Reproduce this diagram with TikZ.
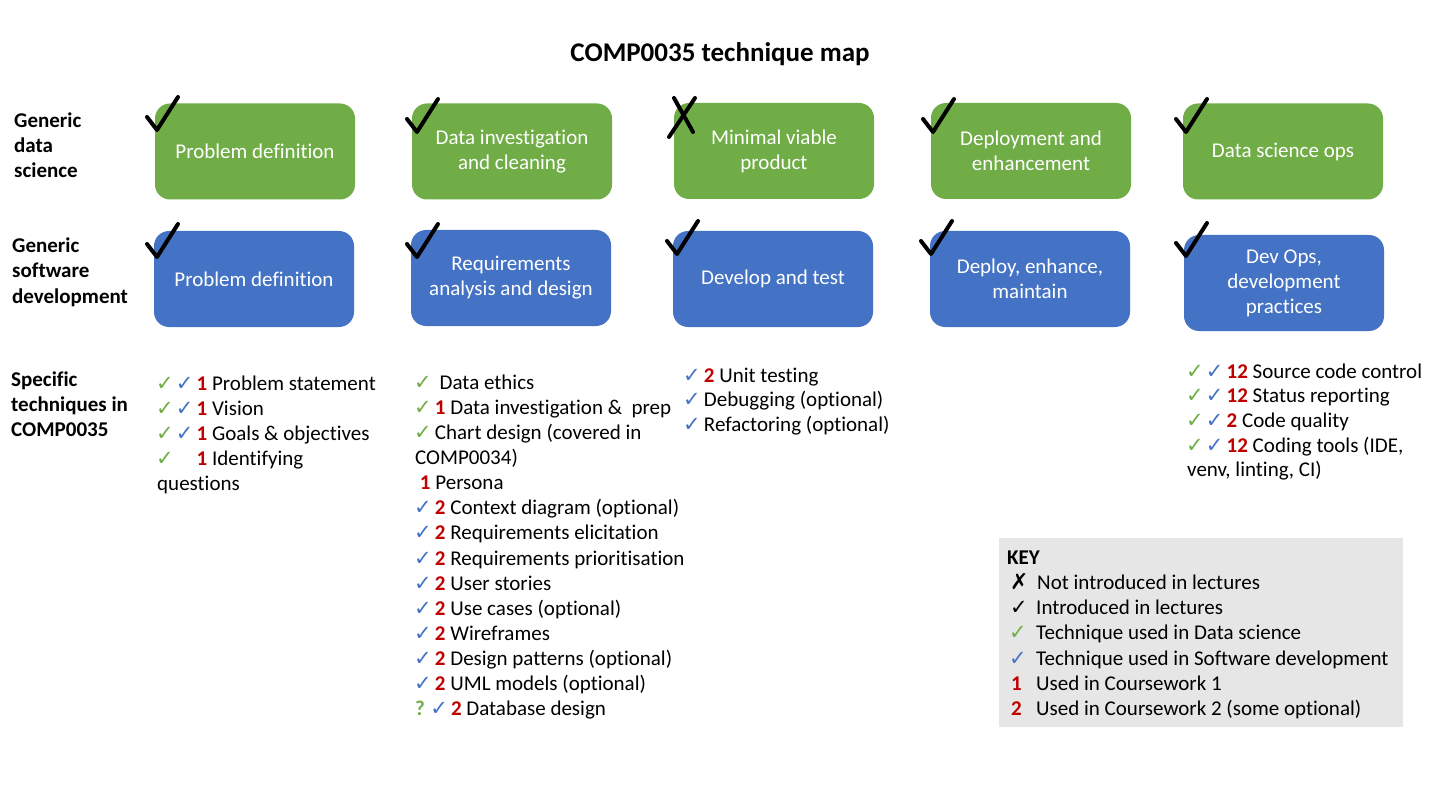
\documentclass[tikz,border=0pt]{standalone}
\usepackage{fontspec}
\setmainfont{Carlito}[Ligatures=NoCommon]
\newfontfamily\symf{DejaVu Sans}
\definecolor{dsgreen}{HTML}{70AD47}
\definecolor{sdblue}{HTML}{4472C4}
\definecolor{cwred}{HTML}{C00000}
\definecolor{keygray}{HTML}{E7E6E6}
\newcommand{\ckbox}[1]{\makebox[15pt][l]{\hspace{-1pt}\symf\fontsize{21}{24}\selectfont #1}}
\newcommand{\gck}{{\color{dsgreen}\ckbox{✓}}}
\newcommand{\bck}{{\color{sdblue}\ckbox{✓}}}
\newcommand{\kck}{{\symf\fontsize{21}{24}\selectfont ✓}}
\newcommand{\kx}{{\symf\fontsize{22}{24}\selectfont ✗}}
\newcommand{\rn}[1]{{\color{cwred}\bfseries #1}}
\newcommand{\tickat}[2]{\draw[tickline] (#1-10,#2-13) -- (#1,#2) -- (#1+21,#2-33);}
\tikzset{
  base/.style={font=\fontsize{21}{25}\selectfont},
  txt/.style={base, anchor=base west, inner sep=0pt},
  lbl/.style={txt, font=\fontsize{21}{25}\selectfont\bfseries},
  stage/.style={base, text=white, align=center, minimum width=200pt, minimum height=96pt,
    rounded corners=15pt, inner sep=0pt},
  dsbox/.style={stage, fill=dsgreen},
  sdbox/.style={stage, fill=sdblue},
  tickline/.style={line width=4pt, line cap=round, line join=round, black}
}
\begin{document}
\begin{tikzpicture}[x=1pt,y=-1pt]
\useasboundingbox (0,0) rectangle (1440,810);
\fill[white] (0,0) rectangle (1440,810);

% title
\node[txt, anchor=base, font=\fontsize{27}{30}\selectfont\bfseries] (title) at (720,62) {COMP0035 technique map};

% row labels
\node[lbl] (r1a) at (14,127.5) {Generic};
\node[lbl] (r1b) at (14,152.5) {data};
\node[lbl] (r1c) at (14,177.5) {science};
\node[lbl] (r2a) at (12,253) {Generic};
\node[lbl] (r2b) at (12,278) {software};
\node[lbl] (r2c) at (12,303) {development};
\node[lbl] (r3a) at (11,386.5) {Specific};
\node[lbl] (r3b) at (11,411.5) {techniques in};
\node[lbl] (r3c) at (11,436.5) {COMP0035};

% data science boxes
\node[dsbox] (g1) at (255,151.5) {Problem definition};
\node[dsbox] (g2) at (512,151.5) {Data investigation\\and cleaning};
\node[dsbox] (g3) at (774,151) {Minimal viable\\product};
\node[dsbox] (g4) at (1031,151) {Deployment and\\enhancement};
\node[dsbox] (g5) at (1283,151.5) {Data science ops};

% software development boxes
\node[sdbox] (b1) at (254,279) {Problem definition};
\node[sdbox] (b2) at (511,278) {Requirements\\analysis and design};
\node[sdbox] (b3) at (773,279) {Develop and test};
\node[sdbox] (b4) at (1030,279) {Deploy, enhance,\\maintain};
\node[sdbox] (b5) at (1284,283) {Dev Ops,\\development\\practices};

% hand ticks
\tickat{157}{130}
\tickat{417}{132}
\tickat{933}{132}
\tickat{1186}{132}
\tickat{157}{257}
\tickat{417}{257}
\tickat{677}{254}
\tickat{931}{254}
\tickat{1186}{256}
% hand cross
\draw[tickline] (674,98) -- (693,132);
\draw[tickline] (695,98) -- (669,137);

% column 1
\node[txt] (c1a) at (157,390.5) {\gck\ \bck\ \rn{1} Problem statement};
\node[txt] (c1b) at (157,415.5) {\gck\ \bck\ \rn{1} Vision};
\node[txt] (c1c) at (157,440.5) {\gck\ \bck\ \rn{1} Goals \& objectives};
\node[txt] (c1d) at (157,465.5) {\gck\ \hphantom{\bck}\ \rn{1} Identifying};
\node[txt] (c1e) at (157,490.5) {questions};

% column 2
\node[txt] (c2a) at (415,389) {\gck\ \ Data ethics};
\node[txt] (c2b) at (415,414.15) {\gck\ \rn{1} Data investigation \& \ prep};
\node[txt] (c2c) at (415,439.3) {\gck\ Chart design (covered in};
\node[txt] (c2d) at (415,464.45) {COMP0034)};
\node[txt] (c2e) at (415,489.6) {\ \rn{1} Persona};
\node[txt] (c2f) at (415,514.75) {\bck\ \rn{2} Context diagram (optional)};
\node[txt] (c2g) at (415,539.9) {\bck\ \rn{2} Requirements elicitation};
\node[txt] (c2h) at (415,565.05) {\bck\ \rn{2} Requirements prioritisation};
\node[txt] (c2i) at (415,590.2) {\bck\ \rn{2} User stories};
\node[txt] (c2j) at (415,615.35) {\bck\ \rn{2} Use cases (optional)};
\node[txt] (c2k) at (415,640.5) {\bck\ \rn{2} Wireframes};
\node[txt] (c2l) at (415,665.65) {\bck\ \rn{2} Design patterns (optional)};
\node[txt] (c2m) at (415,690.8) {\bck\ \rn{2} UML models (optional)};
\node[txt] (c2n) at (415,715.95) {{\color{dsgreen}\bfseries ?} \bck\ \rn{2} Database design};

% column 3
\node[txt] (c3a) at (684,382) {\bck\ \rn{2} Unit testing};
\node[txt] (c3b) at (684,406.5) {\bck\ Debugging (optional)};
\node[txt] (c3c) at (684,431) {\bck\ Refactoring (optional)};

% column 5
\node[txt] (c5a) at (1187,378) {\gck\ \bck\ \rn{12} Source code control};
\node[txt] (c5b) at (1187,402.7) {\gck\ \bck\ \rn{12} Status reporting};
\node[txt] (c5c) at (1187,427.4) {\gck\ \bck\ \rn{2} Code quality};
\node[txt] (c5d) at (1187,452.1) {\gck\ \bck\ \rn{12} Coding tools (IDE,};
\node[txt] (c5e) at (1187,476.8) {venv, linting, CI)};

% key
\fill[keygray] (999,538) rectangle (1403,727);
\node[lbl] (keyt) at (1007,564) {KEY};
\node[txt] (k1s) at (1010,589.3) {\kx};
\node[txt] (k1) at (1037,589.3) {Not introduced in lectures};
\node[txt] (k2s) at (1010,614.6) {\kck};
\node[txt] (k2) at (1036,614.6) {Introduced in lectures};
\node[txt] (k3s) at (1010,639.9) {\gck};
\node[txt] (k3) at (1036,639.9) {Technique used in Data science};
\node[txt] (k4s) at (1010,665.2) {\bck};
\node[txt] (k4) at (1036,665.2) {Technique used in Software development};
\node[txt] (k5s) at (1011,690.5) {\rn{1}};
\node[txt] (k5) at (1036,690.5) {Used in Coursework 1};
\node[txt] (k6s) at (1011,715.8) {\rn{2}};
\node[txt] (k6) at (1036,715.8) {Used in Coursework 2 (some optional)};
\end{tikzpicture}
\end{document}
